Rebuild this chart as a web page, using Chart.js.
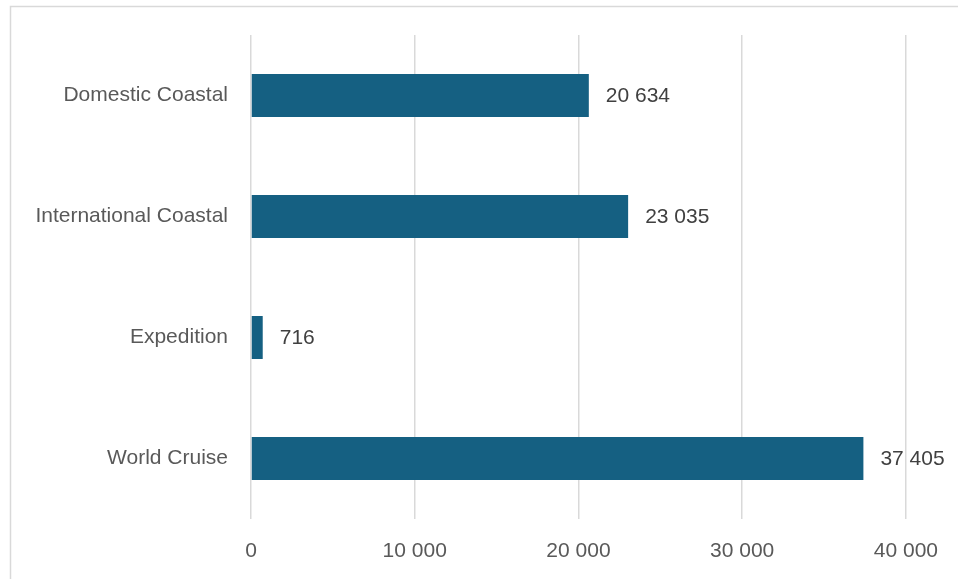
<!DOCTYPE html>
<html><head><meta charset="utf-8">
<script src="https://cdn.jsdelivr.net/npm/chart.js@4"></script>
<style>html,body{margin:0;padding:0;background:#fff}#wrap{width:958px;height:579px;position:relative}</style>
</head><body><div id="wrap"><canvas id="c" width="958" height="579"></canvas></div>
<script>
const categories = ["Domestic Coastal", "International Coastal", "Expedition", "World Cruise"];
const values = [20634, 23035, 716, 37405];
const tickValues = [0, 10000, 20000, 30000, 40000];

const fmt = v => String(Math.round(v)).replace(/\B(?=(\d{3})+(?!\d))/g, " ");
const FONT = "'Liberation Sans', Arial, sans-serif";

const framePlugin = {
  id: 'frame',
  beforeDraw(chart) {
    const ctx = chart.ctx;
    ctx.save();
    ctx.fillStyle = '#fff';
    ctx.fillRect(0, 0, chart.width, chart.height);
    ctx.strokeStyle = '#d9d9d9';
    ctx.lineWidth = 1.5;
    ctx.strokeRect(10.5, 6.5, 1000, 700);
    ctx.restore();
  }
};
const labelPlugin = {
  id: 'vlabels',
  afterDatasetsDraw(chart) {
    const ctx = chart.ctx;
    const meta = chart.getDatasetMeta(0);
    ctx.save();
    ctx.font = "21px " + FONT;
    ctx.fillStyle = '#404040';
    ctx.textAlign = 'left';
    ctx.textBaseline = 'middle';
    meta.data.forEach((bar, i) => {
      ctx.fillText(fmt(values[i]), bar.x + 17, bar.y + 1);
    });
    ctx.restore();
  }
};

new Chart(document.getElementById('c'), {
  type: 'bar',
  data: { labels: categories, datasets: [{ data: values, backgroundColor: '#156082', barPercentage: 0.355, categoryPercentage: 1 }] },
  options: {
    indexAxis: 'y',
    responsive: false,
    animation: false,
    layout: { padding: { top: 35, right: 51, left: 0, bottom: 0 } },
    plugins: { legend: { display: false }, tooltip: { enabled: false } },
    scales: {
      x: {
        min: 0, max: 40000,
        afterBuildTicks: s => { s.ticks = tickValues.map(v => ({ value: v })); },
        afterFit: s => { s.height = 60; },
        grid: { color: '#d9d9d9', lineWidth: 1.5, drawTicks: false },
        border: { display: false },
        ticks: { padding: 20, color: '#595959', font: { size: 21, family: FONT }, callback: v => fmt(v), maxRotation: 0 }
      },
      y: {
        afterFit: s => { s.width = 251; },
        grid: { display: false },
        border: { display: false },
        ticks: { padding: 15, color: '#595959', font: { size: 21, family: FONT } }
      }
    }
  },
  plugins: [framePlugin, labelPlugin]
});
</script></body></html>
